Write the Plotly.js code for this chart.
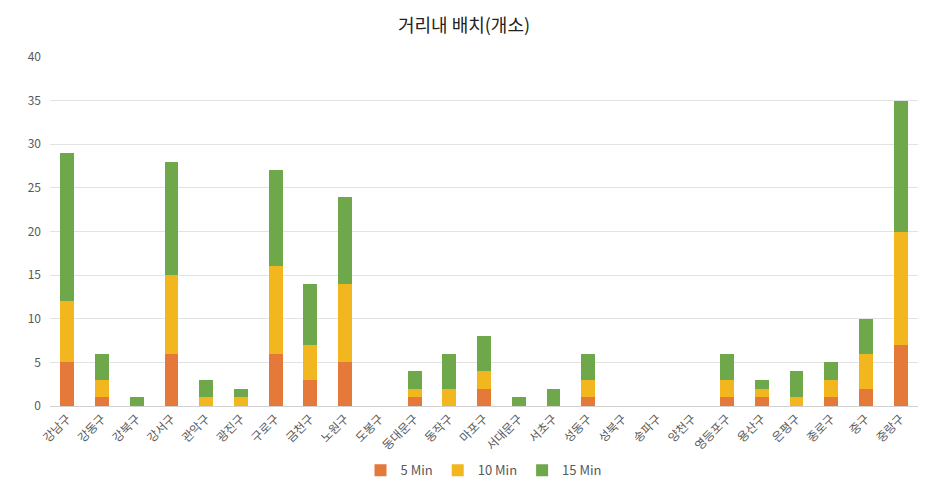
<!DOCTYPE html>
<html>
<head>
<meta charset="utf-8">
<script src="https://cdn.plot.ly/plotly-3.0.1.min.js"></script>
<style>
  body { margin: 0; background: #fff; }
  #myDiv { width: 928px; height: 495px; }
</style>
</head>
<body>
<div id="myDiv"></div>
<script>
var districts = ['강남구', '강동구', '강북구', '강서구', '관악구', '광진구', '구로구', '금천구', '노원구', '도봉구',
  '동대문구', '동작구', '마포구', '서대문구', '서초구', '성동구', '성북구', '송파구', '양천구', '영등포구',
  '용산구', '은평구', '종로구', '중구', '중랑구'];

var min5  = [5, 1, 0, 6, 0, 0, 6, 3, 5, 0, 1, 0, 2, 0, 0, 1, 0, 0, 0, 1, 1, 0, 1, 2, 7];
var min10 = [7, 2, 0, 9, 1, 1, 10, 4, 9, 0, 1, 2, 2, 0, 0, 2, 0, 0, 0, 2, 1, 1, 2, 4, 13];
var min15 = [17, 3, 1, 13, 2, 1, 11, 7, 10, 0, 2, 4, 4, 1, 2, 3, 0, 0, 0, 3, 1, 3, 2, 4, 15];

var yTicks = [0, 5, 10, 15, 20, 25, 30, 35, 40];

var fontFam = '"Noto Sans CJK KR", "Noto Sans", sans-serif';

var trace1 = {
  x: districts,
  y: min5,
  type: 'bar',
  name: '5 Min',
  marker: {color: '#E5793A'}
};

var trace2 = {
  x: districts,
  y: min10,
  type: 'bar',
  name: '10 Min',
  marker: {color: '#F2B71E'}
};

var trace3 = {
  x: districts,
  y: min15,
  type: 'bar',
  name: '15 Min',
  marker: {color: '#6FA84B'}
};

var data = [trace1, trace2, trace3];

var layout = {
  width: 928,
  height: 495,
  barmode: 'stack',
  bargap: 0.6,
  paper_bgcolor: '#fff',
  plot_bgcolor: '#fff',
  font: {family: fontFam, color: '#595959'},
  margin: {l: 50, r: 10, t: 57, b: 89},
  title: {
    text: '거리내 배치(개소)',
    font: {size: 18, color: '#222'},
    x: 0.5,
    y: 0.96,
    yanchor: 'top'
  },
  showlegend: true,
  legend: {
    orientation: 'h',
    x: 0.5,
    xanchor: 'center',
    yref: 'container',
    y: 0.05,
    yanchor: 'middle',
    font: {size: 13, color: '#595959'},
    itemwidth: 30,
    traceorder: 'normal'
  },
  xaxis: {
    type: 'category',
    automargin: false,
    tickangle: -45,
    tickfont: {size: 12, color: '#595959'},
    showline: true,
    linecolor: '#D0D0D0',
    linewidth: 1,
    ticks: ''
  },
  yaxis: {
    range: [0, 40],
    automargin: false,
    tickvals: yTicks,
    tickfont: {size: 12, color: '#595959'},
    gridcolor: '#E3E3E3',
    zeroline: false,
    showline: false,
    ticks: '',
    ticklabelstandoff: 8
  }
};

Plotly.newPlot('myDiv', data, layout, {displayModeBar: false});
</script>
</body>
</html>
